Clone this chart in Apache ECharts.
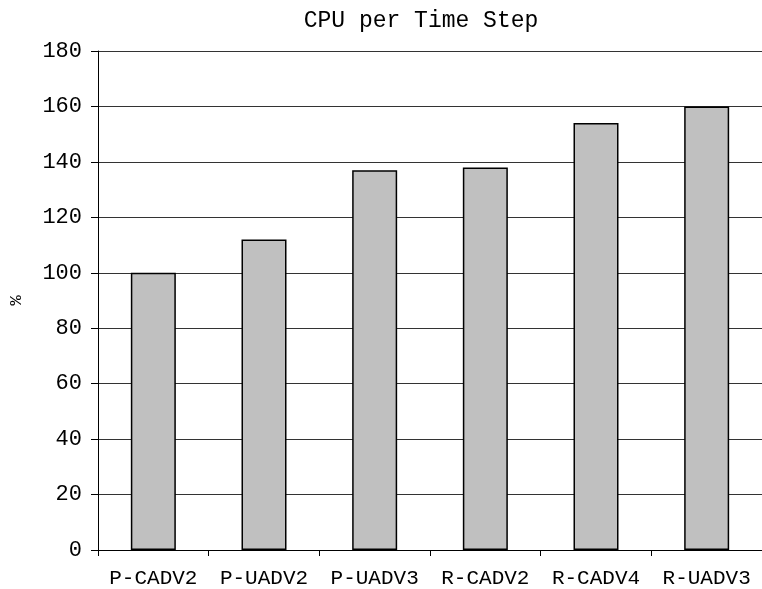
<!DOCTYPE html>
<html>
<head>
<meta charset="utf-8">
<script src="https://cdn.jsdelivr.net/npm/echarts@6/dist/echarts.min.js"></script>
<style>
  html, body { margin: 0; padding: 0; background: #fff; }
  #chart { width: 762px; height: 589px; }
</style>
</head>
<body>
<div id="chart"></div>
<script>
// CPU cost per time step, relative to P-CADV2 (= 100 %)
const categories = ['P-CADV2', 'P-UADV2', 'P-UADV3', 'R-CADV2', 'R-CADV4', 'R-UADV3'];
const cpuPercent = [100, 112, 137, 138, 154, 160];
const yTicks = { min: 0, max: 180, interval: 20 };

const FONT = '"Liberation Mono", "Courier New", monospace';

const chart = echarts.init(document.getElementById('chart'), null, { renderer: 'canvas' });
chart.setOption({
  animation: false,
  backgroundColor: '#ffffff',
  title: {
    text: 'CPU per Time Step',
    left: 416,
    textAlign: 'center',
    top: 4,
    textStyle: { fontFamily: FONT, fontSize: 23, fontWeight: 'normal', color: '#000' }
  },
  grid: { left: 96, top: 51, width: 673, height: 500, containLabel: false },
  xAxis: {
    type: 'category',
    data: categories,
    axisLine: { lineStyle: { color: '#000', width: 1 } },
    axisTick: { show: true, interval: 0, length: 6, alignWithLabel: false, lineStyle: { color: '#000' } },
    axisLabel: { interval: 0, hideOverlap: false, fontFamily: FONT, fontSize: 21, color: '#000', margin: 18 },
    splitLine: { show: false }
  },
  yAxis: {
    type: 'value',
    min: yTicks.min,
    max: yTicks.max,
    interval: yTicks.interval,
    name: '%',
    nameLocation: 'middle',
    nameRotate: 90,
    nameGap: 73,
    nameTextStyle: { fontFamily: FONT, fontSize: 17, color: '#000' },
    axisLine: { show: true, lineStyle: { color: '#000', width: 1 } },
    axisTick: { show: true, length: 7, inside: false, lineStyle: { color: '#000' } },
    axisLabel: { fontFamily: FONT, fontSize: 22, color: '#000', margin: 16 },
    splitLine: { show: true, lineStyle: { color: '#333', width: 1 } }
  },
  series: [{
    type: 'bar',
    data: cpuPercent,
    barWidth: 45,
    itemStyle: { color: '#c0c0c0', borderColor: '#000', borderWidth: 1.5 }
  }]
});
</script>
</body>
</html>
